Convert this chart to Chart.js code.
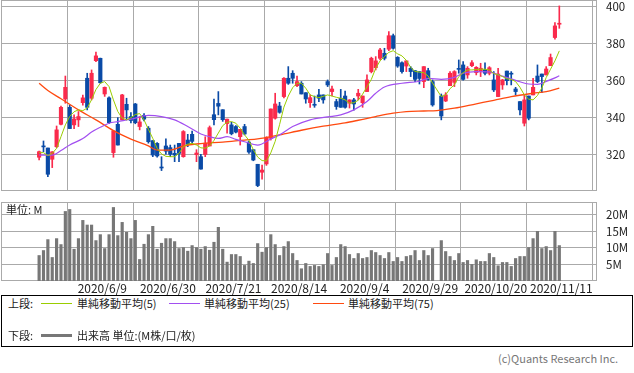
<!DOCTYPE html>
<html lang="ja">
<head>
<meta charset="utf-8">
<title>株価チャート</title>
<script src="https://cdn.jsdelivr.net/npm/chart.js@4.4.1/dist/chart.umd.min.js"></script>
<style>
  body { margin: 0; background: #fff; }
  #wrap { position: relative; width: 634px; height: 373px; overflow: hidden;
          font-family: "Noto Sans CJK JP", sans-serif; color: #222; }
  canvas { position: absolute; left: 0; display: block; }
  #priceChart { top: 0; }
  #volumeChart { top: 192px; }
  .txt { position: absolute; font-size: 11px; line-height: 14px; white-space: nowrap; }
  #legend { position: absolute; left: 1px; top: 295px; width: 632px; height: 52px;
            box-sizing: border-box; border: 1px solid #000; }
  .ln { position: absolute; width: 31px; height: 0; border-top: 1px solid; }
  #copy { left: 498px; top: 351px; color: #777; }
</style>
</head>
<body>
<div id="wrap">
  <canvas id="priceChart" width="634" height="191"></canvas>
  <canvas id="volumeChart" width="634" height="103"></canvas>
  <div class="txt" style="left:6px;top:202px">単位: M</div>
  <div id="legend">
    <div class="txt" style="left:6px;top:0">上段:</div>
    <div class="ln" style="left:39px;top:7px;border-color:#9acd00"></div>
    <div class="txt" style="left:75px;top:0">単純移動平均(5)</div>
    <div class="ln" style="left:167px;top:7px;border-color:#a24ff0"></div>
    <div class="txt" style="left:202px;top:0">単純移動平均(25)</div>
    <div class="ln" style="left:311px;top:7px;border-color:#ff4a10"></div>
    <div class="txt" style="left:346px;top:0">単純移動平均(75)</div>
    <div class="txt" style="left:6px;top:32px">下段:</div>
    <div class="ln" style="left:39px;top:38px;border-top:3px solid #777"></div>
    <div class="txt" style="left:75px;top:32px">出来高 単位:(M株/口/枚)</div>
  </div>
  <div class="txt" id="copy">(c)Quants Research Inc.</div>
</div>
<script>
// 日足 2020/5/20 - 2020/11/11 (10/1 は売買停止で空き)
const tickIdx = [14, 29, 44, 59, 74, 89, 104, 119]
const tickLabels = ['2020/6/9', '2020/6/30', '2020/7/21', '2020/8/14', '2020/9/4', '2020/9/29', '2020/10/20', '2020/11/11']
const priceTicks = [320, 340, 360, 380, 400]
const volumeTicks = [5, 10, 15, 20]

const opens = [
  318.4, 324.2, 323.4, 317.3, 324.1, 336.2, 349.9, 345.4, 335.9, 338.6,
  347.9, 361.1, 350.3, 370.6, 371.9, 352.6, 350.5, 320.9, 336.2, 338.6,
  347.0, 340.4, 347.2, 335.0, 341.0, 334.1, 327.4, 325.9, 312.8, 324.5,
  323.6, 320.5, 325.9, 318.7, 327.7, 330.8, 319.8, 318.7, 319.9, 324.5,
  341.4, 347.5, 344.1, 336.6, 335.9, 335.0, 329.5, 335.0, 326.6, 322.5,
  314.6, 310.3, 314.8, 328.6, 339.5, 346.1, 351.2, 361.1, 363.8, 357.1,
  358.4, 353.3, 347.9, 346.8, 352.1, 352.1, 359.3, 353.9, 348.5, 350.3,
  351.5, 347.6, 349.4, 351.5, 347.9, 353.9, 364.7, 366.8, 371.9, 374.6,
  376.8, 384.1, 372.4, 369.5, 367.7, 366.5, 365.2, 364.7, 359.3, 365.2,
  359.3, null, 351.5, 348.8, 357.1, 358.9, 366.0, 368.3, 362.9, 367.9,
  364.1, 365.0, 365.6, 363.8, 360.2, 351.2, 357.5, 365.0, 363.5, 355.3,
  348.5, 336.8, 351.5, 352.1, 362.3, 363.4, 362.9, 367.9, 383.1, 390.3
]
const highs = [
  321.8, 327.2, 323.4, 321.5, 335.3, 346.1, 362.3, 346.5, 341.3, 343.1,
  352.0, 363.8, 365.6, 375.3, 372.0, 356.4, 351.0, 333.0, 339.8, 352.4,
  350.3, 342.5, 347.5, 340.4, 342.0, 335.0, 327.4, 326.3, 318.7, 328.3,
  325.0, 325.0, 325.9, 332.8, 330.8, 332.6, 322.5, 320.0, 329.5, 335.3,
  349.9, 353.9, 344.1, 339.0, 337.3, 335.5, 333.5, 336.2, 327.2, 322.6,
  314.6, 314.2, 329.5, 344.5, 353.0, 348.1, 361.5, 367.4, 365.2, 362.3,
  359.3, 353.3, 352.1, 351.5, 355.1, 352.1, 360.2, 356.9, 349.7, 355.1,
  354.2, 349.5, 350.3, 355.1, 351.5, 362.9, 372.5, 372.8, 377.3, 377.3,
  386.3, 385.0, 372.8, 370.0, 370.5, 367.4, 365.2, 364.7, 367.4, 366.5,
  360.2, null, 352.6, 353.3, 364.7, 365.2, 371.0, 370.1, 367.4, 370.6,
  367.4, 369.2, 369.5, 367.4, 364.7, 366.5, 360.5, 365.0, 364.7, 356.2,
  348.5, 352.1, 351.5, 361.1, 368.3, 363.4, 367.4, 374.2, 391.2, 400.2
]
const lows = [
  317.0, 321.4, 307.9, 312.8, 323.5, 335.9, 347.6, 333.9, 333.9, 335.0,
  346.5, 344.0, 349.4, 370.1, 358.4, 351.3, 336.5, 318.4, 325.0, 338.6,
  338.6, 337.0, 336.5, 333.2, 338.0, 326.0, 318.7, 318.4, 311.2, 320.0,
  318.7, 316.0, 316.0, 318.4, 324.1, 326.0, 316.0, 312.0, 318.7, 324.5,
  335.9, 341.3, 337.8, 331.4, 330.5, 331.5, 325.0, 330.5, 320.5, 316.5,
  302.5, 306.5, 314.0, 327.7, 339.0, 342.2, 350.5, 357.8, 358.4, 356.6,
  352.6, 347.6, 345.4, 345.4, 348.5, 347.6, 356.6, 351.5, 344.3, 345.4,
  344.9, 345.0, 343.8, 349.4, 345.4, 353.9, 364.0, 365.6, 371.0, 371.0,
  376.0, 376.8, 367.0, 363.8, 364.7, 362.0, 359.3, 358.0, 356.0, 360.0,
  346.0, null, 338.6, 348.5, 357.1, 356.6, 363.8, 360.0, 361.1, 367.4,
  362.9, 362.0, 362.9, 362.9, 353.9, 351.2, 355.1, 357.5, 357.5, 352.1,
  341.3, 335.3, 338.6, 352.1, 358.7, 353.3, 362.9, 367.9, 382.2, 388.1
]
const closes = [
  321.4, 324.0, 309.2, 321.3, 333.2, 345.4, 356.2, 333.9, 339.1, 340.4,
  350.5, 345.4, 363.8, 373.2, 358.7, 356.2, 337.1, 332.6, 325.0, 352.1,
  344.0, 338.3, 337.1, 337.5, 339.0, 326.8, 319.6, 319.1, 312.6, 321.7,
  320.0, 319.6, 320.5, 332.3, 325.4, 327.0, 320.7, 312.0, 326.0, 334.4,
  338.7, 346.0, 338.7, 339.0, 331.1, 332.0, 333.5, 331.0, 321.2, 316.9,
  303.1, 311.5, 329.2, 344.5, 347.2, 342.7, 361.1, 358.4, 361.1, 359.3,
  352.6, 349.9, 350.6, 346.5, 350.3, 349.4, 357.5, 355.3, 345.8, 345.4,
  345.4, 349.4, 347.2, 353.0, 351.5, 360.2, 371.9, 370.5, 376.4, 371.9,
  384.1, 377.3, 367.7, 364.7, 370.5, 364.7, 360.5, 361.0, 367.4, 360.5,
  346.7, null, 340.7, 352.1, 363.8, 364.7, 365.9, 360.5, 366.5, 369.5,
  367.0, 366.5, 363.8, 366.8, 354.8, 363.4, 360.2, 359.8, 363.3, 353.9,
  344.0, 349.4, 339.5, 356.2, 359.3, 362.0, 366.1, 372.3, 389.4, 390.8
]
// 出来高 (百万)
const volumes = [
  7.7, 9.2, 12.5, 7.1, 12.8, 11.0, 21.0, 21.6, 9.6, 12.8,
  18.3, 16.9, 16.9, 12.2, 14.0, 9.8, 14.0, 22.2, 13.7, 17.7,
  14.7, 12.8, 18.3, 6.5, 11.1, 14.0, 16.5, 9.6, 11.4, 12.8,
  12.8, 11.9, 9.8, 10.1, 9.0, 10.7, 10.1, 9.6, 10.4, 9.3,
  11.7, 16.2, 9.6, 5.7, 8.0, 8.0, 7.4, 4.7, 6.0, 5.3,
  11.3, 8.7, 10.1, 14.0, 11.0, 7.7, 10.4, 11.9, 8.3, 6.2,
  3.7, 5.3, 4.4, 4.7, 4.4, 4.9, 8.3, 4.7, 7.1, 11.0,
  10.4, 8.0, 6.8, 8.3, 6.8, 7.1, 9.2, 8.6, 7.7, 6.8,
  8.6, 5.9, 7.1, 5.9, 7.4, 7.7, 9.2, 6.2, 9.2, 7.7,
  9.8, null, 12.2, 8.9, 7.4, 6.2, 8.3, 5.6, 6.2, 5.0,
  6.4, 5.9, 5.9, 8.3, 7.1, 4.6, 5.6, 5.6, 4.4, 6.8,
  7.4, 7.4, 10.1, 12.8, 15.0, 9.8, 10.4, 9.2, 15.0, 10.7
]

// 移動平均線 (画像から読み取り: 位置と値)
const ma5Idx = [
  0, 1, 2, 3, 4, 5, 6, 7, 8, 9, 10, 11, 12, 13, 14, 15, 16, 17, 18, 19,
  20, 21, 22, 23, 24, 25, 26, 27, 28, 29, 30, 31, 32, 33, 34, 35, 36, 37, 38, 39,
  40, 41, 42, 43, 44, 45, 46, 47, 48, 49, 50, 51, 52, 53, 54, 55, 56, 57, 58, 59,
  60, 61, 62, 63, 64, 65, 66, 67, 68, 69, 70, 71, 72, 73, 74, 75, 76, 77, 78, 79,
  80, 81, 82, 83, 84, 85, 86, 87, 88, 89, 90, 92, 93, 94, 95, 96, 97, 98, 99,
  100, 101, 102, 103, 104, 105, 106, 107, 108, 109, 110, 111, 112, 113, 114, 115, 116, 117, 118, 119
]
const ma5 = [
  320.9, 320.9, 319.3, 320.5, 323.2, 329.5, 335.9, 340.5, 343.0, 344.0,
  343.6, 345.0, 349.5, 355.0, 358.4, 359.3, 356.6, 349.4, 343.1, 339.5,
  338.6, 339.8, 341.5, 342.0, 338.6, 333.5, 328.6, 323.2, 320.2, 318.9,
  318.7, 318.7, 320.5, 324.1, 325.5, 325.9, 325.0, 323.5, 323.3, 324.5,
  327.5, 331.5, 335.5, 337.3, 337.7, 336.8, 334.1, 330.5, 327.5, 322.5,
  318.5, 316.6, 316.4, 320.8, 327.0, 336.0, 345.5, 351.5, 356.0, 358.4,
  358.4, 355.7, 352.1, 351.2, 350.6, 351.3, 352.1, 351.5, 350.8, 350.3,
  349.4, 347.6, 347.9, 349.2, 352.5, 356.5, 360.5, 366.5, 370.5, 372.8,
  375.1, 376.0, 374.3, 373.2, 370.8, 367.0, 364.8, 364.4, 364.1, 362.3,
  358.5, 351.2, 352.1, 355.5, 357.5, 362.0, 364.1, 365.6, 365.6,
  365.8, 366.0, 366.0, 365.6, 363.6, 363.0, 362.0, 360.8, 360.5, 359.3,
  356.2, 352.1, 349.8, 349.4, 351.8, 355.8, 361.5, 366.0, 370.5, 375.9
]
const ma25Idx = [0, 3, 5, 7, 10, 12, 14, 16, 18, 21, 25, 28, 31, 34, 37, 39, 41, 43, 45, 47,
  50, 53, 55, 58, 62, 66, 69, 72, 75, 77, 79, 83, 87, 89, 92, 95, 97, 100, 103, 105,
  108, 110, 112, 114, 116, 118, 119]
const ma25 = [319.6, 319.6, 322.0, 325.0, 328.5, 332.0, 334.6, 336.8, 337.7, 339.0,
  341.0, 340.4, 338.6, 335.0, 331.0, 329.5, 328.6, 329.5, 328.1, 326.8,
  325.0, 328.3, 330.5, 335.0, 338.6, 340.2, 341.3, 344.0, 348.5, 353.0,
  356.4, 358.4, 359.5, 361.0, 360.5, 361.6, 363.8, 364.7, 364.5, 363.0,
  360.8, 359.2, 358.0, 357.8, 359.4, 361.3, 362.5]
const ma75Idx = [0, 2, 5, 9, 13, 17, 21, 25, 27, 30, 33, 37, 42, 47, 50, 55, 60, 65, 70, 73,
  77, 81, 84, 88, 91, 95, 100, 104, 108, 113, 116, 119]
const ma75 = [358.4, 354.5, 350.0, 344.0, 338.6, 332.8, 328.2, 324.5, 322.3, 322.3,
  324.5, 325.8, 326.6, 327.7, 328.3, 330.5, 333.0, 335.2, 337.0, 338.4,
  340.4, 342.2, 343.1, 343.4, 343.6, 344.9, 347.3, 349.2, 351.2, 353.0, 353.9, 355.8]

const RED = '#fa2a4c'
const BLUE = '#0a4aa6'
const GRID = '#aaaaaa'
const X_MIN = -8.72
const X_MAX = 127.62

Chart.defaults.font.family = '"Noto Sans CJK JP", sans-serif'
Chart.defaults.color = '#222'

const idx = closes.map((_, i) => i)
const candleColors = idx.map(i => closes[i] >= opens[i] ? RED : BLUE)
const points = (xs, ys) => xs.map((x, k) => ({ x: x, y: ys[k] }))

// プロット領域の枠線
const framePlugin = {
  id: 'frame',
  beforeDatasetsDraw(chart) {
    const { ctx, chartArea: a } = chart
    ctx.save()
    ctx.strokeStyle = GRID
    ctx.lineWidth = 1
    ctx.strokeRect(a.left + 0.5, a.top + 0.5, a.right - a.left - 1, a.bottom - a.top - 1)
    ctx.restore()
  }
}

function xScale(showLabels) {
  return {
    type: 'linear',
    min: X_MIN,
    max: X_MAX,
    offset: false,
    afterBuildTicks: s => { s.ticks = tickIdx.map(v => ({ value: v })) },
    afterFit: s => { s.height = showLabels ? 14 : 0; s.paddingLeft = 0; s.paddingRight = 0 },
    grid: { color: GRID, drawTicks: false },
    border: { display: false },
    ticks: {
      display: showLabels,
      autoSkip: false,
      maxRotation: 0,
      padding: 0,
      labelOffset: 2,
      font: { size: 12 },
      callback: v => tickLabels[tickIdx.indexOf(v)]
    }
  }
}

function yScale(min, max, values, fmt) {
  return {
    position: 'right',
    min: min,
    max: max,
    afterBuildTicks: s => { s.ticks = values.map(v => ({ value: v })) },
    afterFit: s => { s.width = 37; s.paddingTop = 0; s.paddingBottom = 0 },
    grid: { color: GRID, drawTicks: false },
    border: { display: false },
    ticks: { padding: 9, font: { size: 11.5 }, callback: fmt }
  }
}

const commonOptions = {
  responsive: false,
  animation: false,
  plugins: { legend: { display: false }, tooltip: { enabled: false } }
}

function maLine(label, data, color, width, smooth) {
  return {
    type: 'line',
    label: label,
    data: data,
    borderColor: color,
    borderWidth: width,
    pointRadius: 0,
    spanGaps: true,
    cubicInterpolationMode: smooth ? 'monotone' : 'default',
    tension: 0,
    order: 0
  }
}

new Chart(document.getElementById('priceChart'), {
  type: 'bar',
  data: {
    labels: idx,
    datasets: [
      maLine('単純移動平均(5)', points(ma5Idx, ma5), '#9acd00', 1, false),
      maLine('単純移動平均(25)', points(ma25Idx, ma25), '#a24ff0', 1.2, true),
      maLine('単純移動平均(75)', points(ma75Idx, ma75), '#ff4a10', 1.3, true),
      {
        label: '実体',
        data: idx.map(i => opens[i] == null ? null : [opens[i], closes[i]]),
        backgroundColor: candleColors,
        barThickness: 3.5,
        minBarLength: 1,
        grouped: false,
        order: 1
      },
      {
        label: 'ヒゲ',
        data: idx.map(i => lows[i] == null ? null : [lows[i], highs[i]]),
        backgroundColor: candleColors,
        barThickness: 1,
        grouped: false,
        order: 2
      }
    ]
  },
  options: {
    ...commonOptions,
    layout: { padding: { left: 1, top: 0, right: 0, bottom: 0 }, autoPadding: false },
    scales: {
      x: xScale(false),
      y: yScale(300.16, 403.4, priceTicks, v => v)
    }
  },
  plugins: [framePlugin]
})

new Chart(document.getElementById('volumeChart'), {
  type: 'bar',
  data: {
    labels: idx,
    datasets: [{
      label: '出来高',
      data: volumes,
      backgroundColor: '#777777',
      barThickness: 2.5,
      grouped: false
    }]
  },
  options: {
    ...commonOptions,
    layout: { padding: { left: 1, top: 10, right: 0, bottom: 0 }, autoPadding: false },
    scales: {
      x: xScale(true),
      y: yScale(0, 23.85, volumeTicks, v => v + 'M')
    }
  },
  plugins: [framePlugin]
})
</script>
</body>
</html>
